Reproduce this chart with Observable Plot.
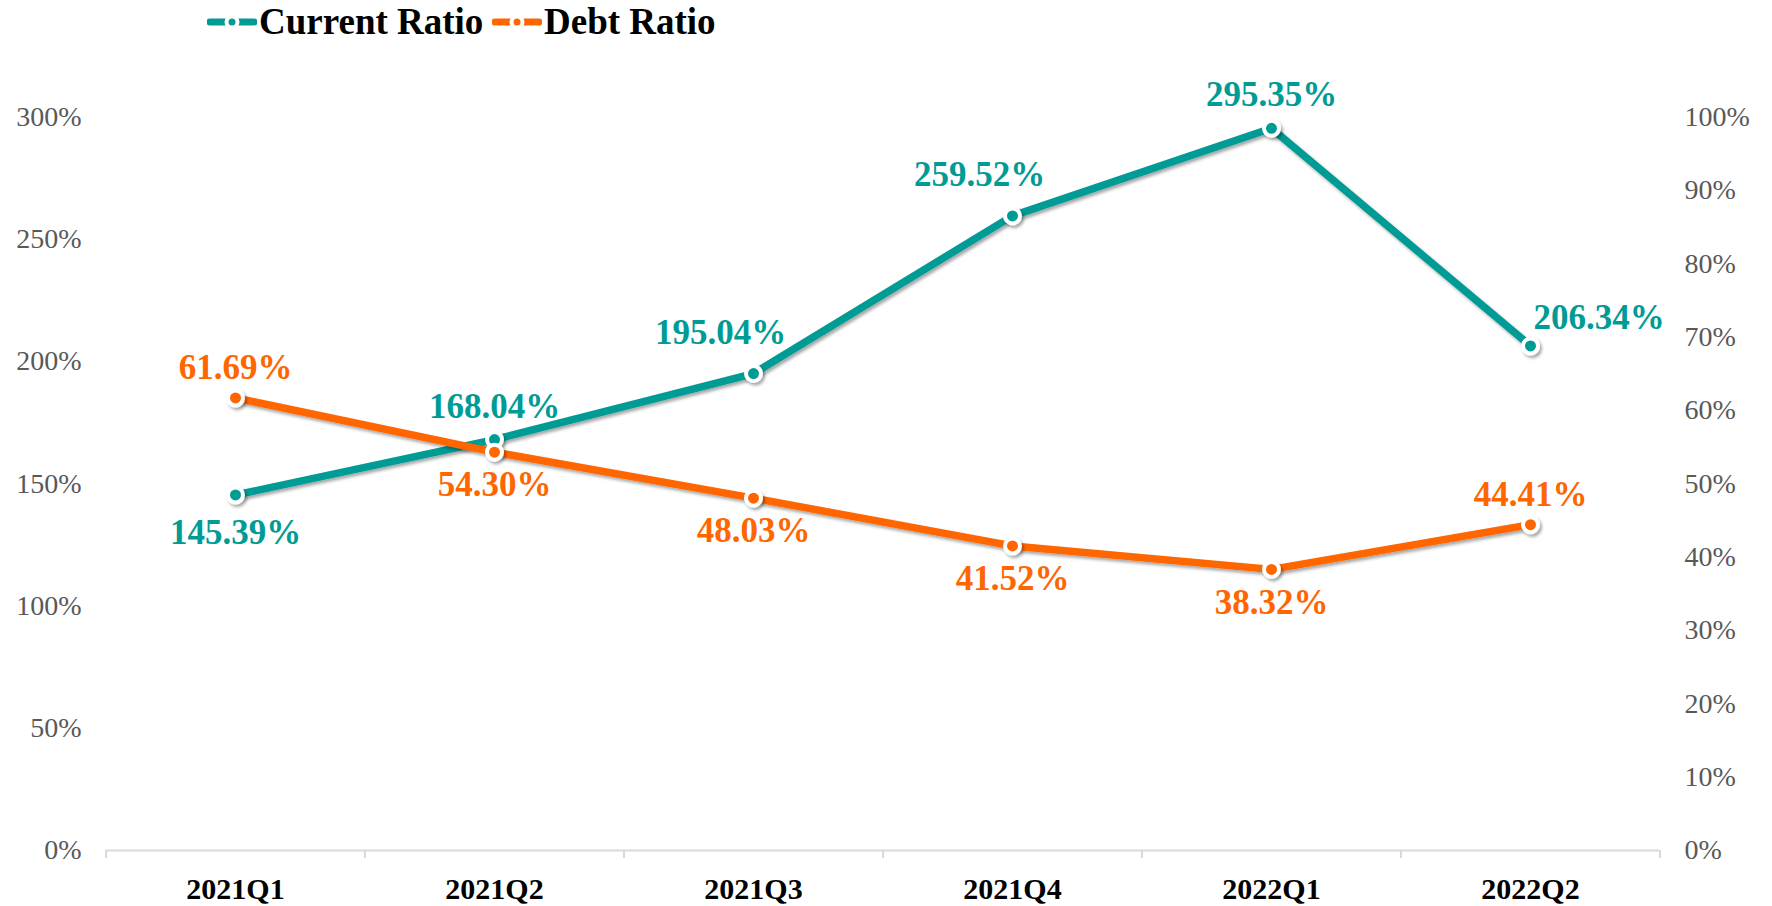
<!DOCTYPE html>
<html>
<head>
<meta charset="utf-8">
<script src="https://cdn.jsdelivr.net/npm/d3@7"></script>
<script src="https://cdn.jsdelivr.net/npm/@observablehq/plot@0.6"></script>
<style>
  html, body { margin: 0; padding: 0; background: #fff; }
  #wrap { width: 1772px; height: 906px; position: relative; overflow: hidden; font-family: "Liberation Serif", "Times New Roman", serif; }
  #legend { position: relative; height: 44px; width: 1772px; }
  .lg-item { position: absolute; top: 0; height: 44px; display: flex; align-items: center; }
  .lg-item span { font-weight: bold; font-size: 37px; color: #000; line-height: 44px; margin-left: 2px; }
  #chart svg { display: block; }
</style>
</head>
<body>
<div id="wrap">
  <div id="legend"></div>
  <div id="chart"></div>
</div>
<script>
// ---- data ----
const categories = ["2021Q1", "2021Q2", "2021Q3", "2021Q4", "2022Q1", "2022Q2"];
const currentRatio = [145.39, 168.04, 195.04, 259.52, 295.35, 206.34];
const debtRatio = [61.69, 54.30, 48.03, 41.52, 38.32, 44.41];
const leftTicks = [0, 50, 100, 150, 200, 250, 300];
const rightTicks = [0, 10, 20, 30, 40, 50, 60, 70, 80, 90, 100];
const seriesNames = ["Current Ratio", "Debt Ratio"];
const seriesColors = ["#009B95", "#FF6600"];

// ---- layout ----
const W = 1772, H = 862;
const mL = 105, mR = 113, mT = 72.4, mB = 56;
const bw = (W - mL - mR) / categories.length;
const ratio = 300 / 100; // left domain / right domain

const current = categories.map((c, i) => ({cat: c, v: currentRatio[i], raw: currentRatio[i], i}));
const debt = categories.map((c, i) => ({cat: c, v: debtRatio[i] * ratio, raw: debtRatio[i], i}));
const fmt = d => d.raw.toFixed(2) + "%";
const last = categories.length - 1;

// label placement logic: the label goes on the side away from the other series;
// labels above a steeply rising segment are nudged left to clear the line
const rising = d => d.i < last && current[d.i + 1].v - d.v > 30;
const curAboveAll = current.filter(d => d.i !== last && d.v >= debt[d.i].v);
const curAbove = curAboveAll.filter(d => !rising(d));
const curAboveLeft = curAboveAll.filter(rising);
const curBelow = current.filter(d => d.i !== last && d.v < debt[d.i].v);
const curRight = current.filter(d => d.i === last);
const debtAbove = debt.filter(d => d.i === last || d.v > current[d.i].v);
const debtBelow = debt.filter(d => !(d.i === last || d.v > current[d.i].v));

const labelFont = {fontSize: 35, fontWeight: "bold"};

const plot = Plot.plot({
  width: W, height: H,
  marginLeft: mL, marginRight: mR, marginTop: mT, marginBottom: mB,
  style: {fontFamily: "'Liberation Serif', 'Times New Roman', serif", background: "#fff", overflow: "visible"},
  x: {type: "point", domain: categories, padding: 0.5, label: null},
  y: {domain: [0, 300], label: null},
  marks: [
    Plot.axisY({ticks: leftTicks, tickFormat: d => d + "%", tickSize: 0, tickPadding: 24, fontSize: 28, color: "#595959", label: null}),
    Plot.axisY({anchor: "right", ticks: rightTicks.map(d => d * ratio), tickFormat: d => Math.round(d / ratio) + "%", tickSize: 0, tickPadding: 25, fontSize: 28, color: "#595959", label: null}),
    Plot.axisX({tickSize: 0, tickPadding: 27, fontSize: 30, fontWeight: "bold", color: "#000", label: null}),
    Plot.ruleY([0], {stroke: "#d9d9d9", strokeWidth: 2}),
    Plot.ruleX(categories, {x: d => d, dx: -bw / 2, y1: 0, y2: -3.3, stroke: "#d9d9d9", strokeWidth: 2}),
    Plot.ruleX([categories[last]], {x: d => d, dx: bw / 2, y1: 0, y2: -3.3, stroke: "#d9d9d9", strokeWidth: 2}),
    Plot.line(current, {x: "cat", y: "v", stroke: seriesColors[0], strokeWidth: 7.5}),
    Plot.line(debt, {x: "cat", y: "v", stroke: seriesColors[1], strokeWidth: 7.5}),
    Plot.dot(current, {x: "cat", y: "v", r: 7.5, fill: seriesColors[0], stroke: "#fff", strokeWidth: 4}),
    Plot.dot(debt, {x: "cat", y: "v", r: 7.5, fill: seriesColors[1], stroke: "#fff", strokeWidth: 4}),
    Plot.text(curAbove, {x: "cat", y: "v", text: fmt, dy: -33, fill: seriesColors[0], ...labelFont}),
    Plot.text(curAboveLeft, {x: "cat", y: "v", text: fmt, dy: -41, dx: -33, fill: seriesColors[0], ...labelFont}),
    Plot.text(curBelow, {x: "cat", y: "v", text: fmt, dy: 38, fill: seriesColors[0], ...labelFont}),
    Plot.text(curRight, {x: "cat", y: "v", text: fmt, dy: -28, dx: 3, textAnchor: "start", fill: seriesColors[0], ...labelFont}),
    Plot.text(debtAbove, {x: "cat", y: "v", text: fmt, dy: -30, fill: seriesColors[1], ...labelFont}),
    Plot.text(debtBelow, {x: "cat", y: "v", text: fmt, dy: 33, fill: seriesColors[1], ...labelFont})
  ]
});

// soft drop shadow on lines and markers
const ns = "http://www.w3.org/2000/svg";
const defs = document.createElementNS(ns, "defs");
defs.innerHTML = '<filter id="sh" x="-10%" y="-10%" width="120%" height="130%"><feDropShadow dx="2" dy="2.5" stdDeviation="1.6" flood-color="#000" flood-opacity="0.35"/></filter>';
plot.insertBefore(defs, plot.firstChild);
plot.querySelectorAll('g[aria-label="line"], g[aria-label="dot"]').forEach(g => g.setAttribute("filter", "url(#sh)"));

document.getElementById("chart").appendChild(plot);

// ---- legend ----
const legend = document.getElementById("legend");
const legendX = [207, 492];
seriesNames.forEach((name, k) => {
  const item = document.createElement("div");
  item.className = "lg-item";
  item.style.left = legendX[k] + "px";
  item.innerHTML =
    `<svg width="50" height="20" viewBox="0 0 50 20">
       <line x1="3" y1="10" x2="47" y2="10" stroke="${seriesColors[k]}" stroke-width="7" stroke-linecap="round"/>
       <circle cx="25" cy="10" r="5.5" fill="${seriesColors[k]}" stroke="#fff" stroke-width="4"/>
     </svg><span>${name}</span>`;
  legend.appendChild(item);
});
</script>
</body>
</html>
